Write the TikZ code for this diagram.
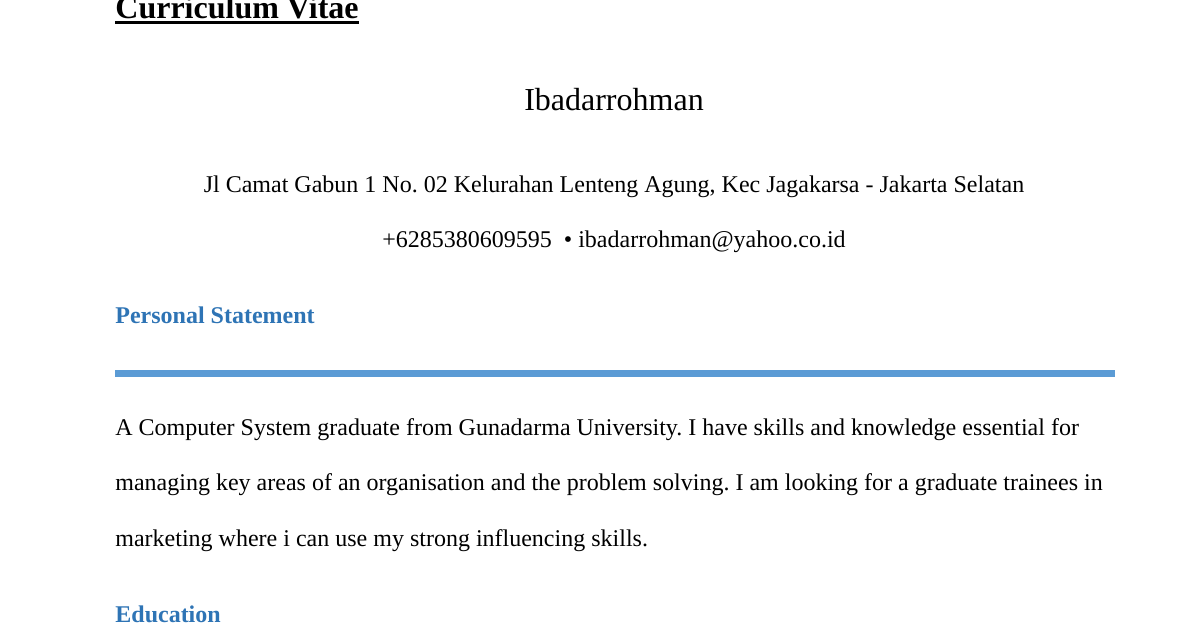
\documentclass[tikz,border=0pt]{standalone}
\usepackage{fontspec}
\setmainfont{Liberation Serif}
\usepackage{tikz}
\usetikzlibrary{positioning,calc}
\frenchspacing
\definecolor{headblue}{RGB}{46,116,181}
\definecolor{ruleblue}{RGB}{91,155,213}
\tikzstyle{txt} = [inner sep=0pt,anchor=base west,font=\fontsize{12}{14}\selectfont]
\tikzstyle{ctr} = [inner sep=0pt,anchor=base,font=\fontsize{12}{14}\selectfont]
\tikzstyle{head} = [txt,font=\fontsize{12}{14}\selectfont\bfseries,text=headblue]

\begin{document}
\begin{tikzpicture}[x=0.5pt,y=-0.5pt]
    \useasboundingbox [fill=white] (0,0) rectangle (1200,630);

    \node [txt,font=\fontsize{16}{18}\selectfont\bfseries] (title) at (115,19) {Curriculum Vitae};
    \draw [line width=1.2pt] ($(title.base west)+(0,3.5)$) -- ($(title.base east)+(0,3.5)$);
    \node [ctr,font=\fontsize{16}{18}\selectfont] (name) at (614,111) {Ibadarrohman};
    \node [ctr] (addr) at (614,193) {Jl Camat Gabun 1 No. 02 Kelurahan Lenteng Agung, Kec Jagakarsa - Jakarta Selatan};
    \node [ctr] (contact) at (614,248) {+6285380609595\ \ \textbullet\ ibadarrohman@yahoo.co.id};

    \node [head] (ps) at (115,324) {Personal Statement};
    \coordinate (r1) at (115,374);
    \coordinate (r2) at (1115,374);
    \draw [ruleblue,line width=3.5pt] (r1) -- (r2);

    \node [txt] (l1) at (115,436) {A Computer System graduate from Gunadarma University. I have skills and knowledge essential for};
    \node [txt] (l2) at (115,491) {managing key areas of an organisation and the problem solving. I am looking for a graduate trainees in};
    \node [txt] (l3) at (115,546) {marketing where i can use my strong influencing skills.};

    \node [head] (edu) at (115,622) {Education};
  \end{tikzpicture}
\end{document}
